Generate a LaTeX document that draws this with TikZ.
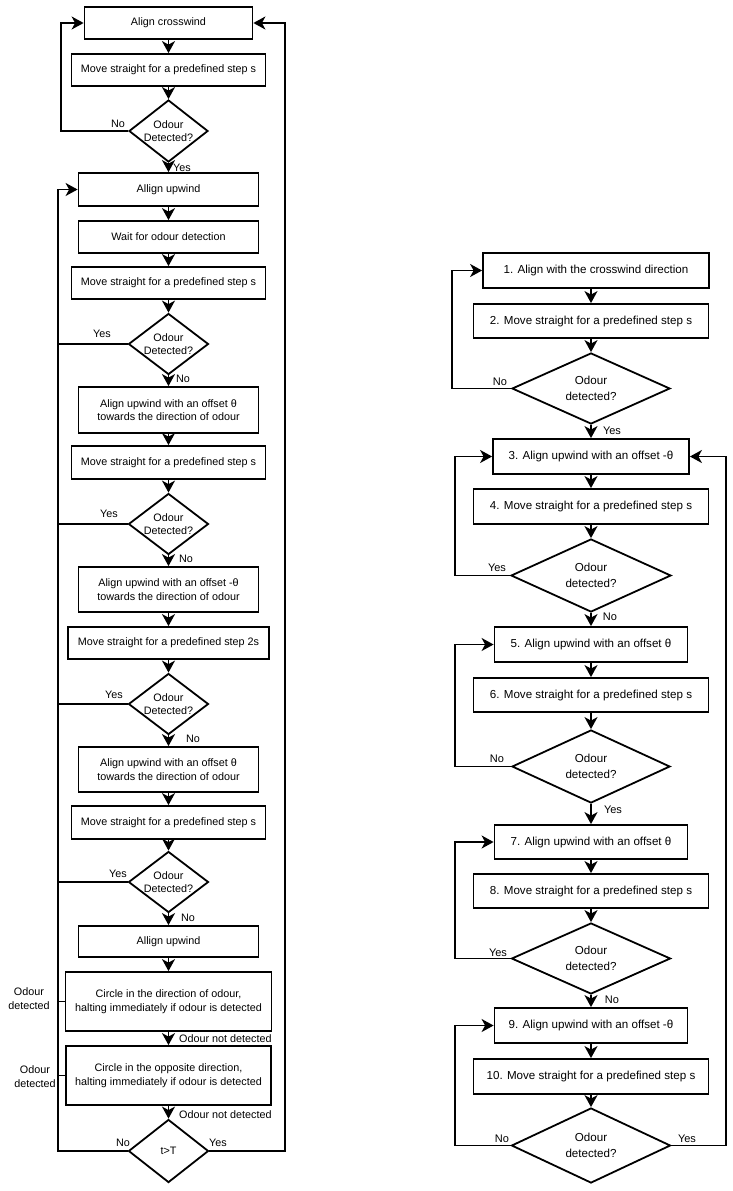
\documentclass[tikz,border=0pt]{standalone}
\usepackage{fontspec}
\setmainfont{Liberation Sans}
\usetikzlibrary{shapes.geometric,arrows.meta}
\newcommand\txtOdL{Odour\\Detected?}
\newcommand\txtOdR{Odour\\detected?}
\begin{document}
\begin{tikzpicture}[x=1pt,y=-1pt,
  lf/.style={font=\fontsize{10.8}{13.5}\selectfont},
  rf/.style={font=\fontsize{11.6}{16.5}\selectfont},
  bx/.style 2 args={draw,line width=1.8pt,inner sep=0pt,align=center,minimum width=#1,minimum height=#2},
  ldia/.style n args={3}{diamond,draw,line width=1.8pt,inner sep=0pt,minimum width=#1,minimum height=#2,label={[lf,align=center]center:#3}},
  rdia/.style n args={3}{diamond,draw,line width=1.8pt,inner sep=0pt,minimum width=#1,minimum height=#2,label={[rf,align=center]center:#3}},
  ln/.style={line width=1.6pt},
  arr/.style={ln,-{Stealth[length=12pt,width=13pt,inset=3.5pt]}},
  lbl/.style={lf,inner sep=0pt},
  rlbl/.style={font=\fontsize{11}{13}\selectfont,inner sep=0pt}]
\useasboundingbox (0,0) rectangle (733,1191);

% ---------------- left column ----------------
\node[bx={168pt}{32pt},lf] (L1) at (168.5,23) {Align crosswind};
\node[bx={194pt}{32pt},lf] (L2) at (168.5,70) {Move straight for a predefined step s};
\node[ldia={79pt}{62pt}{\txtOdL}] (D1) at (168.5,131) {};
\node[bx={180pt}{33pt},lf] (L3) at (168.5,189.5) {Allign upwind};
\node[bx={180pt}{32pt},lf] (L4) at (168.5,237) {Wait for odour detection};
\node[bx={194pt}{32pt},lf] (L5) at (168.5,283) {Move straight for a predefined step s};
\node[ldia={80pt}{61pt}{\txtOdL}] (D2) at (168.5,344) {};
\node[bx={180pt}{46pt},lf] (L6) at (168.5,410) {Align upwind with an offset θ\\towards the direction of odour};
\node[bx={194pt}{33pt},lf] (L7) at (168.5,462.5) {Move straight for a predefined step s};
\node[ldia={80pt}{61pt}{\txtOdL}] (D3) at (168.5,524) {};
\node[bx={180pt}{45pt},lf] (L8) at (168.5,589.5) {Align upwind with an offset -θ\\towards the direction of odour};
\node[bx={201pt}{32pt},lf] (L9) at (168.5,643) {Move straight for a predefined step 2s};
\node[ldia={80pt}{61pt}{\txtOdL}] (D4) at (168.5,704) {};
\node[bx={180pt}{45pt},lf] (L10) at (168.5,769.5) {Align upwind with an offset θ\\towards the direction of odour};
\node[bx={194pt}{33pt},lf] (L11) at (168.5,822.5) {Move straight for a predefined step s};
\node[ldia={80pt}{61pt}{\txtOdL}] (D5) at (168.5,882) {};
\node[bx={180pt}{31pt},lf] (L12) at (168.5,941.5) {Allign upwind};
\node[bx={206pt}{59pt},lf] (L13) at (168.5,1001.5) {Circle in the direction of odour,\\halting immediately if odour is detected};
\node[bx={205pt}{59pt},lf] (L14) at (168.5,1075.5) {Circle in the opposite direction,\\halting immediately if odour is detected};
\node[ldia={80pt}{63pt}{t>T}] (D6) at (168.5,1151) {};

\coordinate (lxA) at (61,0);
\coordinate (lxB) at (58,0);
\coordinate (rxA) at (285,0);

\draw[arr] (L1) -- (L2);
\draw[arr] (L2) -- (D1);
\draw[arr] (D1) -- (L3);
\draw[arr] (L3) -- (L4);
\draw[arr] (L4) -- (L5);
\draw[arr] (L5) -- (D2);
\draw[arr] (D2) -- (L6);
\draw[arr] (L6) -- (L7);
\draw[arr] (L7) -- (D3);
\draw[arr] (D3) -- (L8);
\draw[arr] (L8) -- (L9);
\draw[arr] (L9) -- (D4);
\draw[arr] (D4) -- (L10);
\draw[arr] (L10) -- (L11);
\draw[arr] (L11) -- (D5);
\draw[arr] (D5) -- (L12);
\draw[arr] (L12) -- (L13);
\draw[arr] (L13) -- (L14);
\draw[arr] (L14) -- (D6);

\draw[arr] (D1.west) -- (D1.west -| lxA) |- (L1.west);
\draw[arr] (D6.west) -- (D6.west -| lxB) |- (L3.west);
\draw[ln] (D2.west) -- (D2.west -| lxB);
\draw[ln] (D3.west) -- (D3.west -| lxB);
\draw[ln] (D4.west) -- (D4.west -| lxB);
\draw[ln] (D5.west) -- (D5.west -| lxB);
\draw[ln] (L13.west) -- (L13.west -| lxB);
\draw[ln] (L14.west) -- (L14.west -| lxB);
\draw[arr] (D6.east) -- (D6.east -| rxA) |- (L1.east);

\node[lbl] (n1) at (118,124) {No};
\node[lbl] (y1) at (182,168) {Yes};
\node[lbl] (y2) at (102,334) {Yes};
\node[lbl] (n2) at (183,379) {No};
\node[lbl] (y3) at (109,514) {Yes};
\node[lbl] (n3) at (186,559) {No};
\node[lbl] (y4) at (114,695) {Yes};
\node[lbl] (n4) at (193,739) {No};
\node[lbl] (y5) at (118,874) {Yes};
\node[lbl] (n5) at (188,918) {No};
\node[lbl,anchor=west] (nd1) at (179,1039) {Odour not detected};
\node[lbl,anchor=west] (nd2) at (179,1115) {Odour not detected};
\node[lbl,align=center] (od1) at (29,998.5) {Odour\\detected};
\node[lbl,align=center] (od2) at (35,1076.5) {Odour\\detected};
\node[lbl] (n6) at (123,1143) {No};
\node[lbl] (y6) at (218,1143) {Yes};

% ---------------- right column ----------------
\node[bx={226pt}{35pt},rf] (R1) at (596,270.5) {1. Align with the crosswind direction};
\node[bx={235pt}{34pt},rf] (R2) at (591,321) {2. Move straight for a predefined step s};
\node[rdia={158pt}{71pt}{\txtOdR}] (RD1) at (591,388.5) {};
\node[bx={196pt}{35pt},rf] (R3) at (591,456.5) {3. Align upwind with an offset -θ};
\node[bx={235pt}{35pt},rf] (R4) at (591,506.5) {4. Move straight for a predefined step s};
\node[rdia={160pt}{73pt}{\txtOdR}] (RD2) at (591,575.5) {};
\node[bx={193pt}{35pt},rf] (R5) at (591,644.5) {5. Align upwind with an offset θ};
\node[bx={235pt}{34pt},rf] (R6) at (591,695) {6. Move straight for a predefined step s};
\node[rdia={158pt}{73pt}{\txtOdR}] (RD3) at (591,766.5) {};
\node[bx={193pt}{34pt},rf] (R7) at (591,842) {7. Align upwind with an offset θ};
\node[bx={235pt}{34pt},rf] (R8) at (591,891) {8. Move straight for a predefined step s};
\node[rdia={159pt}{71pt}{\txtOdR}] (RD4) at (591,958.5) {};
\node[bx={193pt}{35pt},rf] (R9) at (591,1025.5) {9. Align upwind with an offset -θ};
\node[bx={235pt}{35pt},rf] (R10) at (591,1076.5) {10. Move straight for a predefined step s};
\node[rdia={159pt}{75pt}{\txtOdR}] (RD5) at (591,1145.5) {};

\coordinate (rlA) at (452,0);
\coordinate (rlB) at (455,0);
\coordinate (rrA) at (726,0);

\draw[arr] (R1.south -| R2.north) -- (R2.north);
\draw[arr] (R2) -- (RD1);
\draw[arr] (RD1) -- (R3);
\draw[arr] (R3) -- (R4);
\draw[arr] (R4) -- (RD2);
\draw[arr] (RD2) -- (R5);
\draw[arr] (R5) -- (R6);
\draw[arr] (R6) -- (RD3);
\draw[arr] (RD3) -- (R7);
\draw[arr] (R7) -- (R8);
\draw[arr] (R8) -- (RD4);
\draw[arr] (RD4) -- (R9);
\draw[arr] (R9) -- (R10);
\draw[arr] (R10) -- (RD5);

\draw[arr] (RD1.west) -- (RD1.west -| rlA) |- (R1.west);
\draw[arr] (RD2.west) -- (RD2.west -| rlB) |- (R3.west);
\draw[arr] (RD3.west) -- (RD3.west -| rlB) |- (R5.west);
\draw[arr] (RD4.west) -- (RD4.west -| rlB) |- (R7.west);
\draw[arr] (RD5.west) -- (RD5.west -| rlB) |- (R9.west);
\draw[arr] (RD5.east) -- (RD5.east -| rrA) |- (R3.east);

\node[rlbl] (rn1) at (500,382) {No};
\node[rlbl] (ry1) at (612,431) {Yes};
\node[rlbl] (ry2) at (497,568) {Yes};
\node[rlbl] (rn2) at (610,617) {No};
\node[rlbl] (rn3) at (497,759) {No};
\node[rlbl] (ry3) at (613,810) {Yes};
\node[rlbl] (ry4) at (498,953) {Yes};
\node[rlbl] (rn4) at (612,1000) {No};
\node[rlbl] (rn5) at (502,1139) {No};
\node[rlbl] (ry5) at (687,1139) {Yes};
\end{tikzpicture}
\end{document}
